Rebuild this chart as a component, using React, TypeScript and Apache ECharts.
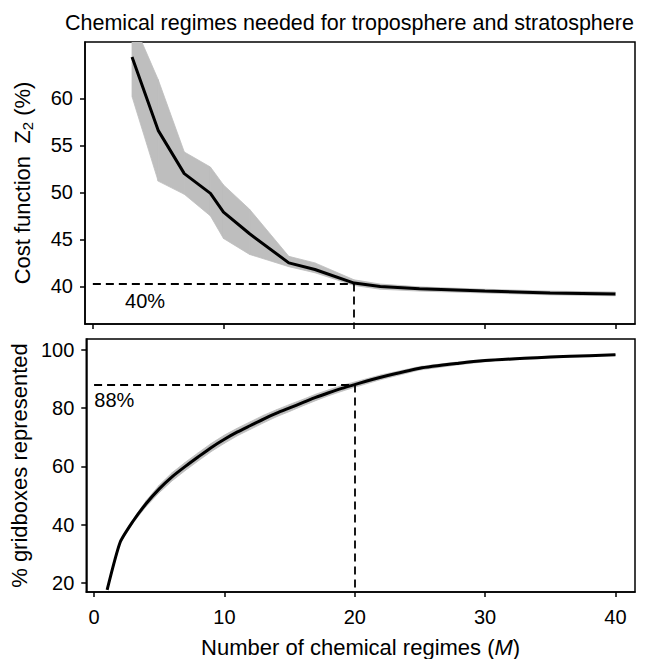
import React, { useEffect, useRef } from "react";
import * as echarts from "echarts";

const TITLE = "Chemical regimes needed for troposphere and stratosphere";
const X_TICKS = [0, 10, 20, 30, 40];
const TOP_Y_TICKS = [40, 45, 50, 55, 60];
const BOT_Y_TICKS = [20, 40, 60, 80, 100];

// Top panel: cost function Z2 (%)
const topX = [3, 5, 7, 9, 10, 12, 15, 17, 20, 22, 25, 30, 35, 40];
const topMean = [64.4, 56.6, 52.0, 49.9, 47.9, 45.6, 42.5, 41.8, 40.35, 40.0, 39.75, 39.5, 39.3, 39.2];
const topUpper = [68.4, 62.0, 54.3, 52.7, 50.8, 48.2, 43.2, 42.5, 40.7, 40.25, 39.95, 39.7, 39.5, 39.4];
const topLower = [60.2, 51.2, 49.8, 47.5, 45.1, 43.4, 42.1, 41.45, 40.1, 39.7, 39.5, 39.3, 39.1, 39.0];

// Bottom panel: % gridboxes represented
const botX = [1, 2, 3, 4, 5, 6, 7, 8, 9, 10, 11, 12, 13, 14, 15, 16, 17, 18, 19, 20, 22, 25, 28, 30, 33, 35, 38, 40];
const botMean = [17.7, 34.0, 41.3, 47.3, 52.3, 56.5, 60.0, 63.3, 66.5, 69.3, 71.8, 74.0, 76.2, 78.2, 80.0, 81.8, 83.6, 85.2, 86.7, 88.0, 90.5, 93.6, 95.3, 96.2, 97.0, 97.4, 97.9, 98.2];
const botUpper = [17.7, 34.3, 41.9, 48.3, 53.6, 57.9, 61.4, 64.7, 67.9, 70.7, 73.1, 75.3, 77.5, 79.4, 81.2, 82.9, 84.7, 86.2, 87.7, 88.9, 91.3, 94.2, 95.8, 96.6, 97.3, 97.7, 98.1, 98.4];
const botLower = [17.7, 33.7, 40.7, 46.3, 51.0, 55.1, 58.6, 61.9, 65.1, 67.9, 70.5, 72.7, 74.9, 77.0, 78.8, 80.7, 82.5, 84.2, 85.7, 87.1, 89.7, 93.0, 94.8, 95.8, 96.7, 97.1, 97.7, 98.0];

// Reference lines
const TOP_REF = { x: 20, y: 40.3, label: "40%", labelX: 4.0, labelY: 38.4 };
const BOT_REF = { x: 20, y: 88, label: "88%", labelX: 1.55, labelY: 82.8 };

const FONT = "'Liberation Sans', Arial, sans-serif";
const GRAY = "#bebebe";
const TICK_FS = 20;
const NAME_FS = 22;

function pairs(xs: number[], ys: number[]) {
  return xs.map((x, i) => [x, ys[i]]);
}

function bandSeries(xs: number[], lo: number[], up: number[], axisIndex: number) {
  return {
    type: "custom",
    xAxisIndex: axisIndex,
    yAxisIndex: axisIndex,
    clip: true,
    silent: true,
    z: 1,
    data: pairs(xs, lo),
    encode: { x: 0, y: 1 },
    renderItem: (params: any, api: any) => {
      const i = params.dataIndex;
      if (i >= xs.length - 1) return { type: "group", children: [] };
      const points = [
        api.coord([xs[i], up[i]]),
        api.coord([xs[i + 1], up[i + 1]]),
        api.coord([xs[i + 1], lo[i + 1]]),
        api.coord([xs[i], lo[i]]),
      ];
      return {
        type: "polygon",
        shape: { points },
        style: { fill: GRAY, stroke: GRAY, lineWidth: 0.8 },
      };
    },
  };
}

export default function App() {
  const ref = useRef<HTMLDivElement>(null);
  useEffect(() => {
    document.body.style.margin = "0";
    const chart = echarts.init(ref.current!, null, { renderer: "svg" });
    const axisLineStyle = { color: "#000", width: 1.5 };
    const xAxisBase = {
      type: "value" as const,
      min: -0.6,
      max: 41.5,
      splitLine: { show: false },
      axisLine: { show: true, onZero: false, lineStyle: axisLineStyle },
      axisTick: { show: true, length: 5, lineStyle: axisLineStyle, customValues: X_TICKS },
    };
    const dashed = { color: "#000", width: 1.8, type: [8, 5] as any };
    const option: any = {
      animation: false,
      backgroundColor: "#fff",
      textStyle: { fontFamily: FONT },
      title: {
        text: TITLE,
        left: 60,
        top: 7,
        textStyle: { fontFamily: FONT, fontWeight: "normal", fontSize: 21.5, color: "#000" },
      },
      grid: [
        { left: 85, right: 28, top: 42, height: 282, show: true, borderColor: "#000", borderWidth: 1.5, backgroundColor: "transparent" },
        { left: 85, right: 28, top: 339, height: 253, show: true, borderColor: "#000", borderWidth: 1.5, backgroundColor: "transparent" },
      ],
      xAxis: [
        { ...xAxisBase, gridIndex: 0, axisLabel: { show: false } },
        {
          ...xAxisBase,
          gridIndex: 1,
          axisLabel: { show: true, customValues: X_TICKS, color: "#000", fontSize: TICK_FS, margin: 15, fontFamily: FONT },
          name: "{a|Number of chemical regimes (}{i|M}{a|)}",
          nameLocation: "middle",
          nameGap: 44,
          nameTextStyle: {
            rich: {
              a: { fontSize: NAME_FS, color: "#000", fontFamily: FONT },
              i: { fontSize: NAME_FS, color: "#000", fontFamily: FONT, fontStyle: "italic" },
            },
          },
        },
      ],
      yAxis: [
        {
          type: "value",
          gridIndex: 0,
          min: 36,
          max: 66,
          splitLine: { show: false },
          axisLine: { show: true, onZero: false, lineStyle: axisLineStyle },
          axisTick: { show: true, length: 5, lineStyle: axisLineStyle, customValues: TOP_Y_TICKS },
          axisLabel: { customValues: TOP_Y_TICKS, color: "#000", fontSize: TICK_FS, margin: 12, fontFamily: FONT },
          name: "{a|Cost function  Z}{s|2}{a| (%)}",
          nameLocation: "middle",
          nameRotate: 90,
          nameGap: 50,
          nameTextStyle: {
            rich: {
              a: { fontSize: NAME_FS, color: "#000", fontFamily: FONT, lineHeight: 26 },
              s: { fontSize: 15, color: "#000", fontFamily: FONT, lineHeight: 26, verticalAlign: "bottom", padding: [9, 0, 0, 0] },
            },
          },
        },
        {
          type: "value",
          gridIndex: 1,
          min: 17,
          max: 103.6,
          splitLine: { show: false },
          axisLine: { show: true, onZero: false, lineStyle: axisLineStyle },
          axisTick: { show: true, length: 5, lineStyle: axisLineStyle, customValues: BOT_Y_TICKS },
          axisLabel: { customValues: BOT_Y_TICKS, color: "#000", fontSize: TICK_FS, margin: 12, fontFamily: FONT },
          name: "% gridboxes represented",
          nameLocation: "middle",
          nameRotate: 90,
          nameGap: 50,
          nameTextStyle: { fontSize: NAME_FS, color: "#000", fontFamily: FONT },
        },
      ],
      series: [
        bandSeries(topX, topLower, topUpper, 0),
        {
          type: "line", xAxisIndex: 0, yAxisIndex: 0, symbol: "none",
          data: pairs(topX, topMean), lineStyle: { color: "#000", width: 3 }, z: 5,
          markLine: {
            silent: true, symbol: "none", label: { show: false }, lineStyle: dashed,
            data: [
              [{ coord: [0, TOP_REF.y] }, { coord: [TOP_REF.x, TOP_REF.y] }],
              [{ coord: [TOP_REF.x, TOP_REF.y] }, { coord: [TOP_REF.x, 36] }],
            ],
          },
          markPoint: {
            silent: true, symbolSize: 0,
            label: { show: true, color: "#000", fontSize: TICK_FS, fontFamily: FONT, position: "inside" },
            data: [{ coord: [TOP_REF.labelX, TOP_REF.labelY], value: TOP_REF.label, label: { formatter: TOP_REF.label } }],
          },
        },
        bandSeries(botX, botLower, botUpper, 1),
        {
          type: "line", xAxisIndex: 1, yAxisIndex: 1, symbol: "none", smooth: 0.2,
          data: pairs(botX, botMean), lineStyle: { color: "#000", width: 3 }, z: 5,
          markLine: {
            silent: true, symbol: "none", label: { show: false }, lineStyle: dashed,
            data: [
              [{ coord: [0, BOT_REF.y] }, { coord: [BOT_REF.x, BOT_REF.y] }],
              [{ coord: [BOT_REF.x, BOT_REF.y] }, { coord: [BOT_REF.x, 17] }],
            ],
          },
          markPoint: {
            silent: true, symbolSize: 0,
            label: { show: true, color: "#000", fontSize: TICK_FS, fontFamily: FONT, position: "inside" },
            data: [{ coord: [BOT_REF.labelX, BOT_REF.labelY], value: BOT_REF.label, label: { formatter: BOT_REF.label } }],
          },
        },
      ],
    };
    chart.setOption(option);
    return () => chart.dispose();
  }, []);
  return <div ref={ref} style={{ width: 663, height: 659 }} />;
}
